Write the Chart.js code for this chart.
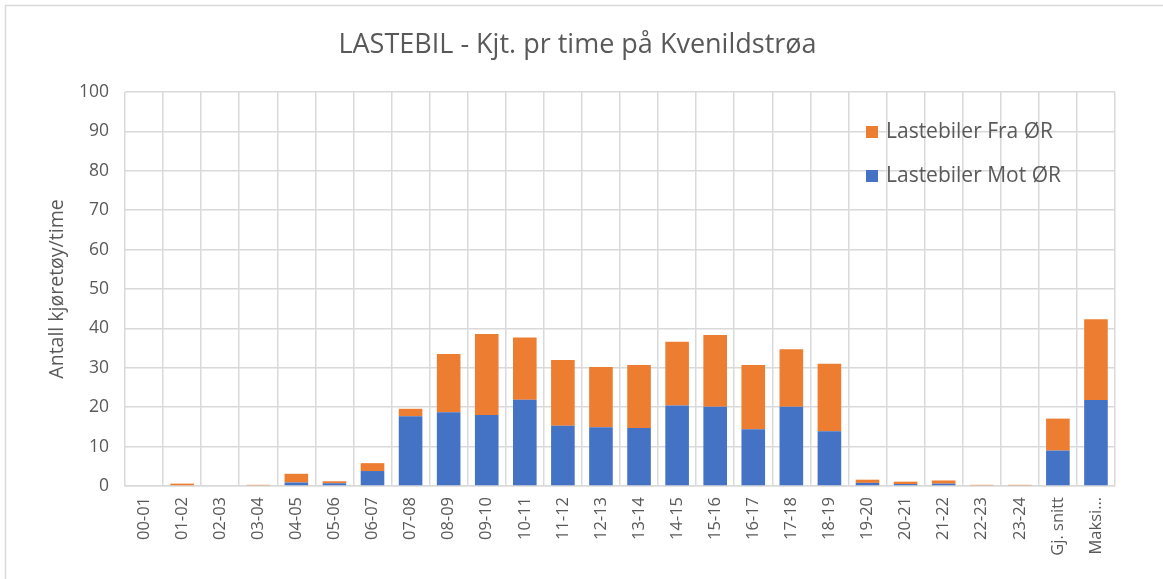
<!DOCTYPE html>
<html>
<head>
<meta charset="utf-8">
<script src="https://cdn.jsdelivr.net/npm/chart.js@4/dist/chart.umd.min.js"></script>
<style>
  html, body { margin:0; padding:0; background:#fff; }
  #wrap { width:1163px; height:579px; position:relative; }
</style>
</head>
<body>
<div id="wrap"><canvas id="chart" width="1163" height="579"></canvas></div>
<script>
// hours + summary columns
const categories = ['00-01','01-02','02-03','03-04','04-05','05-06','06-07','07-08','08-09','09-10',
  '10-11','11-12','12-13','13-14','14-15','15-16','16-17','17-18','18-19','19-20',
  '20-21','21-22','22-23','23-24','Gj. snitt','Maksi…'];
const motOR = [0, 0, 0, 0, 0.9, 0.7, 3.8, 17.7, 18.7, 18.0,
  21.9, 15.3, 14.9, 14.7, 20.4, 20.1, 14.4, 20.1, 13.9, 0.8,
  0.5, 0.6, 0, 0, 9.0, 21.8];
const fraOR = [0, 0.6, 0, 0.3, 2.2, 0.5, 2.0, 1.9, 14.8, 20.6,
  15.8, 16.7, 15.3, 16.0, 16.2, 18.2, 16.3, 14.6, 17.1, 0.8,
  0.6, 0.8, 0.3, 0.3, 8.1, 20.5];
const yTicks = [0,10,20,30,40,50,60,70,80,90,100];

const FONT = "'Open Sans', 'Noto Sans', sans-serif";
const TXT = '#595959';
const GRID = '#d9d9d9';

// legend drawn inside plot, Excel style (reverse order)
const insideLegend = {
  id: 'insideLegend',
  afterDraw(chart){
    const ctx = chart.ctx;
    const ds = chart.data.datasets.slice().reverse();
    ctx.save();
    ctx.font = '21px ' + FONT;
    ctx.textBaseline = 'middle';
    ds.forEach((d, i) => {
      const y = 132 + i*44;
      ctx.fillStyle = d.backgroundColor;
      ctx.fillRect(866, y-6, 12, 12);
      ctx.fillStyle = TXT;
      ctx.fillText(d.label, 886, y);
    });
    ctx.restore();
  }
};

const frame = {
  id: 'frame',
  beforeDraw(chart){
    const ctx = chart.ctx;
    ctx.save();
    ctx.fillStyle = '#fff';
    ctx.fillRect(0,0,chart.width,chart.height);
    ctx.strokeStyle = GRID;
    ctx.lineWidth = 1.5;
    ctx.strokeRect(5.5, 5.5, 1300, 700);
    ctx.restore();
  }
};

new Chart(document.getElementById('chart'), {
  type: 'bar',
  data: {
    labels: categories,
    datasets: [
      { label: 'Lastebiler Mot ØR', data: motOR, backgroundColor: '#4472C4' },
      { label: 'Lastebiler Fra ØR', data: fraOR, backgroundColor: '#ED7D31' }
    ]
  },
  options: {
    responsive: false,
    animation: false,
    devicePixelRatio: 1,
    layout: { padding: { left: 40, right: 48, top: 0, bottom: 0 } },
    datasets: { bar: { categoryPercentage: 1, barPercentage: 0.62 } },
    plugins: {
      legend: { display: false },
      tooltip: { enabled: false },
      title: {
        display: true,
        text: 'LASTEBIL - Kjt. pr time på Kvenildstrøa',
        color: TXT,
        font: { family: FONT, size: 27, weight: 'normal', lineHeight: 1.2 },
        padding: { top: 29, bottom: 30.6 }
      }
    },
    scales: {
      x: {
        stacked: true,
        grid: { color: GRID, lineWidth: 1.5, drawTicks: false },
        border: { color: GRID, width: 1.5 },
        ticks: {
          color: TXT, font: { family: FONT, size: 16.5 },
          maxRotation: 90, minRotation: 90, autoSkip: false, padding: 11
        },
        afterFit(scale){ scale.height = 93; }
      },
      y: {
        stacked: true,
        min: 0, max: 100,
        afterBuildTicks(scale){ scale.ticks = yTicks.map(v => ({ value: v })); },
        grid: { color: GRID, lineWidth: 1.5, drawTicks: false },
        border: { display: false },
        ticks: { color: TXT, font: { family: FONT, size: 17.5 }, padding: 16 },
        title: {
          display: true, text: 'Antall kjøretøy/time', color: TXT,
          font: { family: FONT, size: 19.5 }, padding: { top: 6, bottom: 0 }
        },
        afterFit(scale){ scale.width = 85; }
      }
    }
  },
  plugins: [frame, insideLegend]
});
</script>
</body>
</html>
